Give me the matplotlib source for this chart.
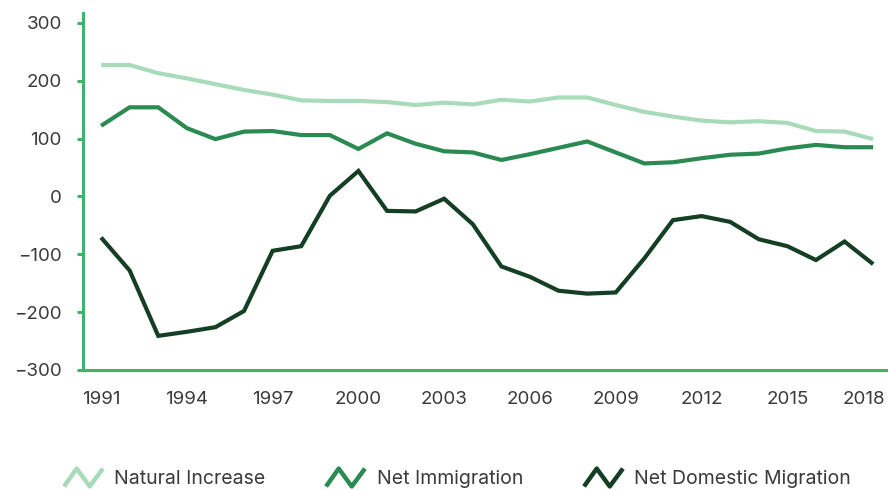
import numpy as np
import matplotlib
matplotlib.use("Agg")
import matplotlib.pyplot as plt
import matplotlib.transforms as mtransforms
from matplotlib.path import Path
from matplotlib.lines import Line2D

plt.rcParams['font.family'] = ['Inter', 'DejaVu Sans']

years = np.arange(1991, 2019)
natural_increase = [227, 227, 213, 204, 194, 184, 176, 166, 165, 165, 163, 158, 162, 159,
                    167, 164, 171, 171, 158, 146, 138, 131, 128, 130, 127, 113, 112, 99]
net_immigration = [122, 154, 154, 118, 99, 112, 113, 106, 106, 82, 109, 91, 78, 76,
                   63, 73, 84, 95, 76, 57, 59, 66, 72, 74, 83, 89, 85, 85]
net_domestic = [-71, -128, -241, -234, -226, -198, -94, -86, 1, 44, -25, -26, -4, -48,
                -121, -139, -163, -168, -166, -107, -41, -34, -44, -74, -86, -110, -78, -117]

labels = ["Natural Increase", "Net Immigration", "Net Domestic Migration"]
colors = ["#a8dbb9", "#2a8a52", "#153f24"]
axis_green = "#3db46a"
text_col = "#3a3a3a"

fig = plt.figure(figsize=(8.88, 4.9), dpi=100)
ax = fig.add_axes([0.0935, 0.2449, 0.9065, 0.7286])

for vals, c in zip([natural_increase, net_immigration, net_domestic], colors):
    ax.plot(years, vals, color=c, lw=3, solid_capstyle='butt', solid_joinstyle='miter')

ax.set_xlim(1990.37, 2018.52)
ax.set_ylim(-300, 317)
ax.set_yticks(np.arange(-300, 301, 100))
ax.set_xticks(np.arange(1991, 2019, 3))
for s in ['top', 'right']:
    ax.spines[s].set_visible(False)
for s in ['left', 'bottom']:
    ax.spines[s].set_color(axis_green)
    ax.spines[s].set_linewidth(2.2)
ax.tick_params(axis='y', colors=axis_green, width=2.2, length=4.3, labelcolor=text_col,
               labelsize=13.5, pad=11)
ax.tick_params(axis='x', length=0, labelcolor=text_col, labelsize=13.5, pad=15)

# keep the last year label inside the figure
last = ax.get_xticklabels()[-1]
last.set_horizontalalignment('right')
last.set_transform(last.get_transform() + mtransforms.ScaledTranslation(12 / 100, 0, fig.dpi_scale_trans))

zig = Path([(-1, -0.46), (-0.35, 0.46), (0.32, -0.46), (1, 0.46)],
           [Path.MOVETO, Path.LINETO, Path.LINETO, Path.LINETO])
handles = [Line2D([], [], marker=zig, linestyle='none', markersize=28, markeredgewidth=3.2,
                  markerfacecolor='none', markeredgecolor=c) for c in colors]
fig.legend(handles, labels, loc='center', bbox_to_anchor=(0.515, 0.022), ncol=3,
           frameon=False, fontsize=14, labelcolor=text_col, columnspacing=3.1,
           handlelength=2.0, handletextpad=0.62)

fig.savefig("out.png", dpi=100)
